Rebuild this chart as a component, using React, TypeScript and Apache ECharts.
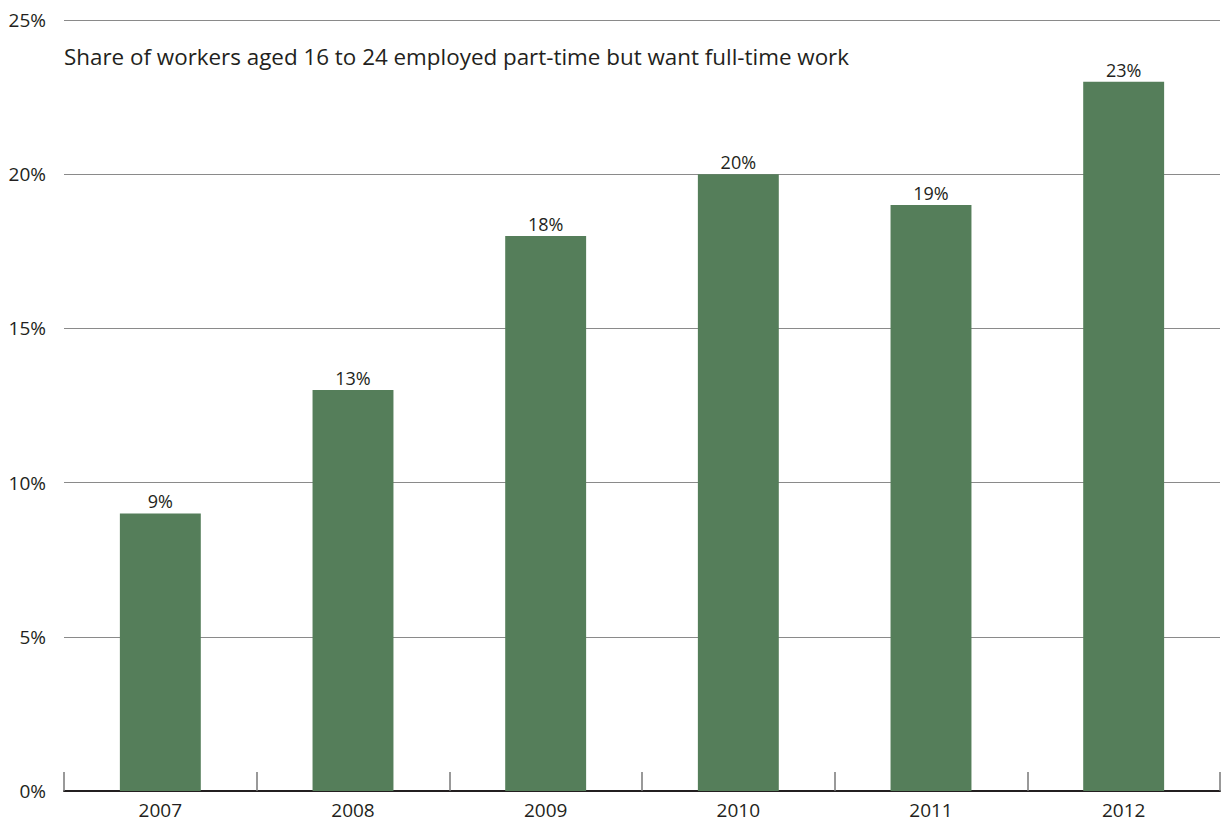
import React, { useEffect, useRef } from "react";
import * as echarts from "echarts";

const categories = ["2007", "2008", "2009", "2010", "2011", "2012"];
const values = [9, 13, 18, 20, 19, 23];
const yTicks = [0, 5, 10, 15, 20, 25];
const titleText = "Share of workers aged 16 to 24 employed part-time but want full-time work";

const FONT = "'Open Sans', 'Noto Sans', sans-serif";

export default function App() {
  const ref = useRef<HTMLDivElement>(null);
  useEffect(() => {
    if (!ref.current) return;
    const chart = echarts.init(ref.current, undefined, { renderer: "svg" });
    chart.setOption({
      animation: false,
      backgroundColor: "#ffffff",
      title: {
        text: titleText,
        left: 64,
        top: 45,
        padding: 0,
        textStyle: { fontFamily: FONT, fontSize: 22.4, fontWeight: "normal", color: "#231f20" },
      },
      grid: { left: 64, right: 5, top: 20, bottom: 34, containLabel: false },
      xAxis: {
        type: "category",
        data: categories,
        axisLine: { show: true, lineStyle: { color: "#231f20", width: 2 } },
        axisTick: { show: true, inside: true, length: 19, lineStyle: { color: "#777", width: 1.5 } },
        axisLabel: { fontFamily: FONT, fontSize: 19, color: "#231f20", margin: 9 },
      },
      yAxis: {
        type: "value",
        min: yTicks[0],
        max: yTicks[yTicks.length - 1],
        interval: 5,
        axisLine: { show: false },
        axisTick: { show: false },
        splitLine: { show: true, lineStyle: { color: "#8a8a8a", width: 1.2 } },
        axisLabel: {
          fontFamily: FONT,
          fontSize: 19,
          color: "#231f20",
          margin: 18,
          formatter: (v: number) => v + "%",
        },
      },
      series: [
        {
          type: "bar",
          data: values,
          barWidth: "42%",
          itemStyle: { color: "#557e5a" },
          label: {
            show: true,
            position: "top",
            distance: 3,
            fontFamily: FONT,
            fontSize: 18,
            color: "#231f20",
            formatter: (p: any) => p.value + "%",
          },
        },
      ],
    });
    return () => chart.dispose();
  }, []);
  return (
    <div
      ref={ref}
      style={{ position: "fixed", left: 0, top: 0, width: 1225, height: 825 }}
    />
  );
}
